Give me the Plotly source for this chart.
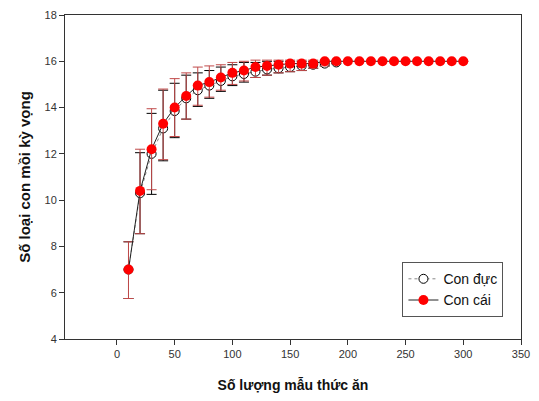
import plotly.graph_objects as go

x_f = [10, 20, 30, 40, 50, 60, 70, 80, 90, 100, 110, 120, 130, 140, 150,
       160, 170, 180, 190, 200, 210, 220, 230, 240, 250, 260, 270, 280, 290, 300]
f_mean = [7.0, 10.4, 12.2, 13.3, 14.0, 14.5, 14.95, 15.1, 15.3, 15.5, 15.6, 15.75,
          15.8, 15.85, 15.9, 15.9, 15.9, 16.0, 16.0, 16.0, 16.0, 16.0, 16.0, 16.0,
          16.0, 16.0, 16.0, 16.0, 16.0, 16.0]
f_upper = [8.2, 12.2, 13.95, 14.8, 15.25, 15.5, 15.75, 15.8, 15.85, 15.95, 16.0, 16.05,
           16.05, 16.05, 16.05, 16.05, 16.05, 16.05, 16.0, 16.0, 16.0, 16.0, 16.0, 16.0,
           16.0, 16.0, 16.0, 16.0, 16.0, 16.0]
f_lower = [5.75, 8.55, 10.45, 11.75, 12.75, 13.5, 14.1, 14.45, 14.75, 15.0, 15.15, 15.3,
           15.4, 15.5, 15.55, 15.6, 15.7, 15.8, 15.9, 16.0, 16.0, 16.0, 16.0, 16.0,
           16.0, 16.0, 16.0, 16.0, 16.0, 16.0]

x_m = [10, 20, 30, 40, 50, 60, 70, 80, 90, 100, 110, 120, 130, 140, 150, 160, 170, 180, 190]
m_mean = [7.0, 10.3, 12.0, 13.1, 13.85, 14.4, 14.75, 14.95, 15.15, 15.35, 15.45, 15.55,
          15.65, 15.7, 15.75, 15.8, 15.85, 15.9, 15.95]
m_upper = [8.2, 12.05, 13.75, 14.75, 15.05, 15.4, 15.5, 15.6, 15.75, 15.85, 15.95, 15.95,
           16.0, 16.0, 16.0, 16.0, 16.0, 16.0, 16.0]
m_lower = [5.75, 8.55, 10.25, 11.7, 12.7, 13.5, 14.05, 14.4, 14.7, 14.95, 15.1, 15.3,
           15.4, 15.5, 15.55, 15.6, 15.7, 15.8, 15.9]

x_ticks = [0, 50, 100, 150, 200, 250, 300, 350]
y_ticks = [4, 6, 8, 10, 12, 14, 16, 18]

fig = go.Figure()
fig.add_trace(go.Scatter(
    x=x_m, y=m_mean, name="Con đực", mode="lines+markers",
    line=dict(color="#888888", width=1, dash="dot"),
    marker=dict(symbol="circle", size=9, color="white", line=dict(color="black", width=1)),
    error_y=dict(type="data", symmetric=False,
                 array=[u - m for u, m in zip(m_upper, m_mean)],
                 arrayminus=[m - l for m, l in zip(m_mean, m_lower)],
                 color="black", thickness=1, width=5),
))
fig.add_trace(go.Scatter(
    x=x_f, y=f_mean, name="Con cái", mode="lines+markers",
    line=dict(color="#222222", width=1),
    marker=dict(symbol="circle", size=10, color="#ff0000", line=dict(color="#ff0000", width=0)),
    error_y=dict(type="data", symmetric=False,
                 array=[u - m for u, m in zip(f_upper, f_mean)],
                 arrayminus=[m - l for m, l in zip(f_mean, f_lower)],
                 color="#c04a4a", thickness=1, width=5),
))

axis_common = dict(showline=True, linecolor="#333333", linewidth=1, mirror=True,
                   showgrid=False, zeroline=False, ticks="outside", ticklen=5,
                   tickcolor="#333333", tickfont=dict(family="Liberation Sans", size=11, color="#333333"))

fig.update_layout(
    width=539, height=401,
    margin=dict(l=65, r=9, t=13, b=62),
    paper_bgcolor="white", plot_bgcolor="white",
    showlegend=True,
    legend=dict(x=0.74, y=0.237, xanchor="left", yanchor="top",
                bordercolor="#555555", borderwidth=1, bgcolor="white",
                font=dict(family="Liberation Sans", size=14, color="#111111"),
                tracegroupgap=4),
    xaxis=dict(range=[-45, 350], tickvals=x_ticks,
               title=dict(text="<b>Số lượng mẫu thức ăn</b>", standoff=20,
                          font=dict(family="Liberation Sans", size=14, color="#111111")),
               **axis_common),
    yaxis=dict(range=[4, 18], tickvals=y_ticks,
               title=dict(text="<b>Số loại con mồi kỳ vọng</b>", standoff=10,
                          font=dict(family="Liberation Sans", size=15, color="#111111")),
               **axis_common),
)

fig.write_html("out.html")
